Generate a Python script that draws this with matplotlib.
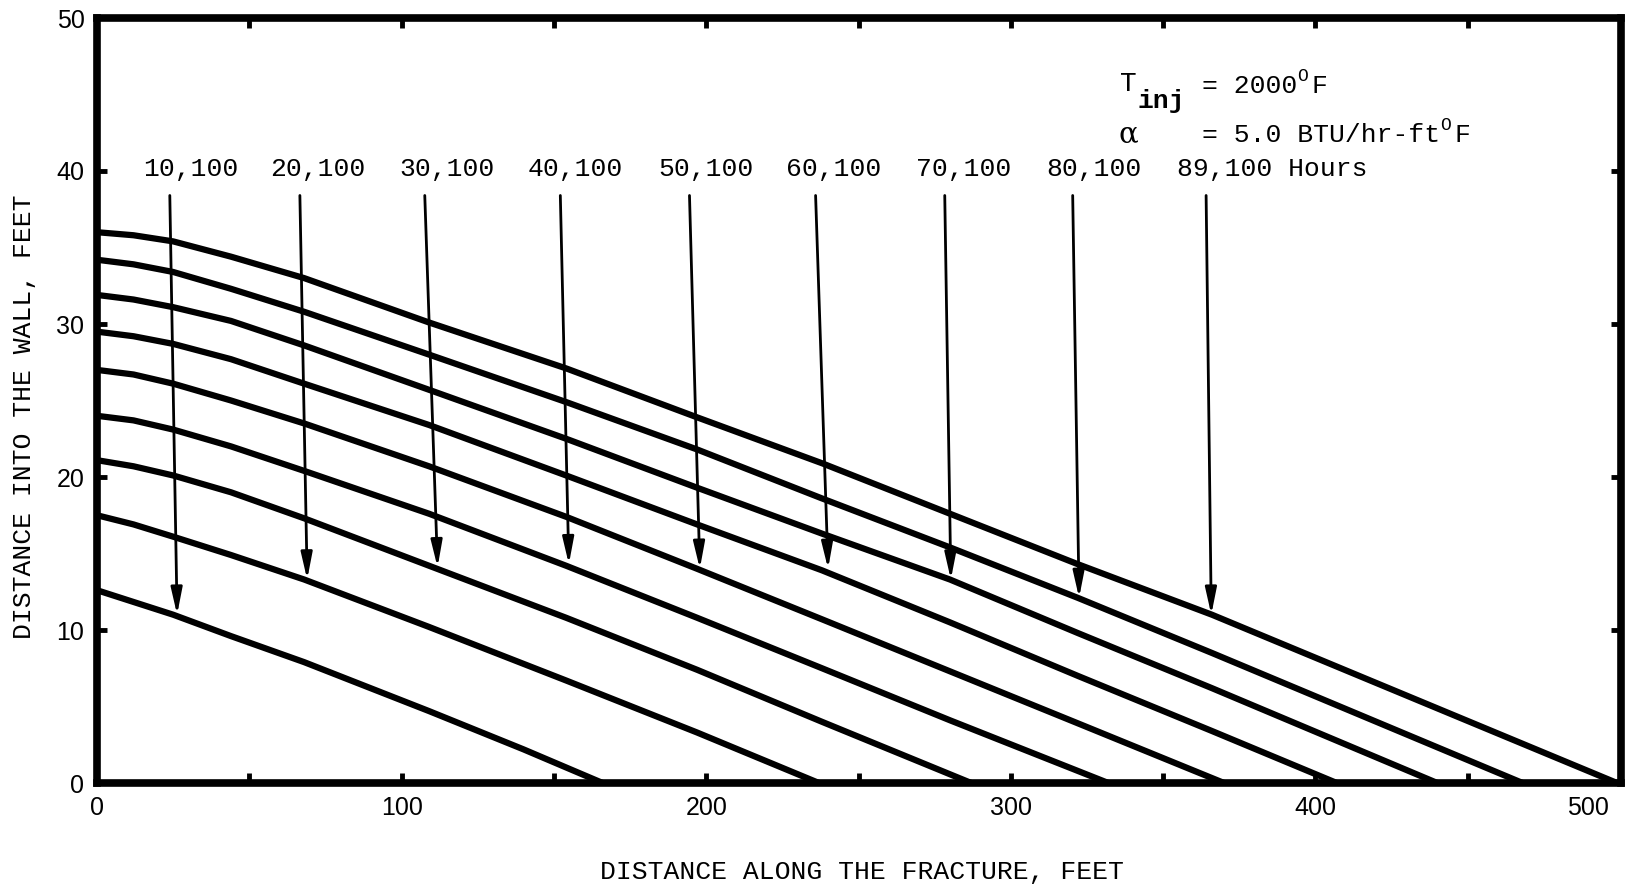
import matplotlib.pyplot as plt
import matplotlib.transforms as mtransforms

plt.rcParams["font.family"] = ["Liberation Mono", "DejaVu Sans"]

# hours for each front and the front positions (distance along fracture, ft -> depth into wall, ft)
hours = ["10,100", "20,100", "30,100", "40,100", "50,100", "60,100", "70,100", "80,100", "89,100"]
front_x = [
    [0, 25, 44, 68, 109, 140, 166],
    [0, 12, 25, 44, 68, 109, 154, 197, 237],
    [0, 12, 25, 44, 68, 109, 154, 197, 238, 287],
    [0, 12, 25, 44, 68, 109, 154, 197, 238, 280, 332],
    [0, 12, 25, 44, 68, 109, 154, 197, 238, 280, 322, 370],
    [0, 12, 25, 44, 68, 109, 154, 197, 238, 280, 322, 366, 407],
    [0, 12, 25, 44, 68, 109, 154, 197, 238, 280, 322, 366, 440],
    [0, 12, 25, 44, 68, 109, 154, 197, 238, 280, 322, 366, 468],
    [0, 12, 25, 44, 68, 109, 154, 197, 238, 280, 322, 366, 499],
]
front_y = [
    [12.6, 11.0, 9.6, 7.9, 4.7, 2.2, 0],
    [17.5, 16.9, 16.1, 14.9, 13.3, 10.2, 6.7, 3.3, 0],
    [21.1, 20.7, 20.1, 19.0, 17.3, 14.2, 10.8, 7.4, 4.0, 0],
    [24.0, 23.7, 23.1, 22.0, 20.4, 17.6, 14.2, 10.8, 7.5, 4.1, 0],
    [27.0, 26.7, 26.1, 25.0, 23.5, 20.7, 17.4, 14.0, 10.7, 7.3, 3.9, 0],
    [29.5, 29.2, 28.7, 27.7, 26.1, 23.4, 20.1, 16.9, 13.9, 10.5, 7.0, 3.4, 0],
    [31.9, 31.6, 31.1, 30.2, 28.6, 25.7, 22.5, 19.3, 16.3, 13.3, 9.8, 6.2, 0],
    [34.2, 33.9, 33.4, 32.3, 30.8, 28.0, 24.9, 21.8, 18.6, 15.4, 12.1, 8.5, 0],
    [36.0, 35.8, 35.4, 34.4, 33.0, 30.1, 27.1, 23.9, 20.9, 17.6, 14.3, 11.0, 0],
]

# pointer arrows: x at top, x at tip, tip depth; labels start x
arrow_top_x = [23.9, 66.6, 107.6, 152.1, 194.5, 235.9, 278.3, 320.3, 364.1]
arrow_tip_x = [26.3, 69.0, 111.8, 154.9, 197.9, 240.0, 280.3, 322.4, 365.8]
arrow_tip_y = [11.0, 13.3, 14.1, 14.3, 14.0, 14.0, 13.3, 12.1, 11.0]
arrow_top_y = 38.4
label_x = [15.1, 56.8, 99.1, 141.5, 184.2, 226.3, 269.0, 311.6, 354.5]
label_y = 39.7

fig = plt.figure(figsize=(16.33, 8.88), dpi=100)
ax = fig.add_axes([97 / 1633, 1 - 783 / 888, 1524 / 1633, 765 / 888])

for xs, ys in zip(front_x, front_y):
    ax.plot(xs, ys, color="black", lw=4.5, solid_capstyle="butt", solid_joinstyle="round")

for i in range(len(hours)):
    ax.annotate(
        "",
        xy=(arrow_tip_x[i], arrow_tip_y[i]),
        xytext=(arrow_top_x[i], arrow_top_y),
        arrowprops=dict(arrowstyle="-|>,head_length=0.8,head_width=0.17",
                        color="black", lw=2.0, mutation_scale=20,
                        shrinkA=0, shrinkB=0),
    )
    txt = hours[i] + (" Hours" if i == len(hours) - 1 else "")
    ax.text(label_x[i], label_y, txt, fontsize=19, ha="left", va="baseline")

# parameter block, top right
t1 = ax.text(335.8, 45.2, "T", fontsize=20, ha="left", va="baseline")
ax.annotate("inj", xy=(1, 0), xycoords=t1, xytext=(1, -11), textcoords="offset points",
            fontsize=19, fontweight="bold", ha="left", va="bottom")
t2 = ax.text(362.8, 45.1, "= 2000", fontsize=19, ha="left", va="baseline")
ax.annotate("O", xy=(1, 0), xycoords=t2, xytext=(0, 9), textcoords="offset points",
            fontsize=13, ha="left", va="bottom")
ax.annotate("F", xy=(1, 0), xycoords=t2, xytext=(10, 0), textcoords="offset points",
            fontsize=19, ha="left", va="bottom")
ax.text(335.2, 41.9, "\u03b1", fontsize=21, ha="left", va="baseline", family="DejaVu Serif")
t4 = ax.text(362.8, 41.9, "= 5.0 BTU/hr-ft", fontsize=19, ha="left", va="baseline")
ax.annotate("O", xy=(1, 0), xycoords=t4, xytext=(0, 9), textcoords="offset points",
            fontsize=13, ha="left", va="bottom")
ax.annotate("F", xy=(1, 0), xycoords=t4, xytext=(10, 0), textcoords="offset points",
            fontsize=19, ha="left", va="bottom")

ax.set_xlim(0, 500.3)
ax.set_ylim(0, 50)
ax.set_xticks([0, 100, 200, 300, 400, 500])
ax.set_xticks([50, 150, 250, 350, 450], minor=True)
ax.set_yticks([0, 10, 20, 30, 40, 50])
for sp in ax.spines.values():
    sp.set_linewidth(5.5)
ax.tick_params(which="both", direction="in", length=7, width=3.5,
               top=True, right=True, labelsize=18, pad=9)
for lab in ax.get_xticklabels() + ax.get_yticklabels():
    lab.set_family("Liberation Sans")
last = ax.get_xticklabels()[-1]
last.set_transform(last.get_transform() + mtransforms.ScaledTranslation(-0.32, 0, fig.dpi_scale_trans))

ax.set_xlabel("DISTANCE ALONG THE FRACTURE, FEET", fontsize=19)
ax.set_ylabel("DISTANCE INTO THE WALL, FEET", fontsize=19)
ax.xaxis.set_label_coords(0.502, -0.1)
ax.yaxis.set_label_coords(-0.040, 0.479)

fig.savefig("out.png", dpi=100)
